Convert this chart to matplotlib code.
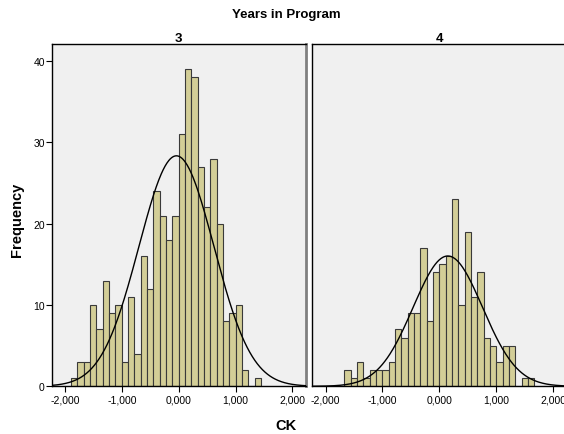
import numpy as np
import matplotlib
matplotlib.use("Agg")
import matplotlib.pyplot as plt

plt.rcParams["font.family"] = ["Liberation Sans", "DejaVu Sans"]

# ---- data ----
bin_width = 0.1114
left_first_bin = -17   # index of first bin edge (in bin widths)
right_first_bin = -15
counts_3 = [1, 3, 3, 10, 7, 13, 9, 10, 3, 11, 4, 16, 12, 24, 21, 18, 21, 31,
            39, 38, 27, 22, 28, 20, 8, 9, 10, 2, 0, 1]
counts_4 = [2, 1, 3, 1, 2, 2, 2, 3, 7, 6, 9, 9, 17, 8, 14, 15, 16, 23, 10, 19,
            11, 14, 6, 5, 3, 5, 5, 0, 1, 1]
mean_3, sd_3 = -0.04, 0.66
mean_4, sd_4 = 0.15, 0.61
panel_titles = ["3", "4"]
x_ticks = [-2, -1, 0, 1, 2]
y_ticks = [0, 10, 20, 30, 40]

fig = plt.figure(figsize=(5.64, 4.35), dpi=100)
fig.patch.set_facecolor("white")

W, H = 564, 435
def rect(x0, x1, y0, y1):
    return [x0 / W, 1 - y1 / H, (x1 - x0) / W, (y1 - y0) / H]

ax1 = fig.add_axes(rect(51.7, 305.7, 45, 387.3))
ax2 = fig.add_axes(rect(312.3, 566.3, 45, 387.3))

xlim = (-2.235, 2.235)
ylim = (0, 42.1)
bar_color = "#D3CE97"
edge_color = "#3A3A3A"

def fmt(v):
    return ("%.3f" % v).replace(".", ",")

for ax, counts, first, mu, sd, title, show_y in [
        (ax1, counts_3, left_first_bin, mean_3, sd_3, panel_titles[0], True),
        (ax2, counts_4, right_first_bin, mean_4, sd_4, panel_titles[1], False)]:
    ax.set_facecolor("#F0F0F0")
    n = len(counts)
    lefts = (np.arange(n) + first) * bin_width
    ax.bar(lefts, counts, width=bin_width, align="edge", color=bar_color,
           edgecolor=edge_color, linewidth=0.8, zorder=2)
    N = sum(counts)
    xs = np.linspace(xlim[0], xlim[1], 400)
    ys = N * bin_width / (sd * np.sqrt(2 * np.pi)) * np.exp(-0.5 * ((xs - mu) / sd) ** 2)
    ax.plot(xs, ys, color="black", linewidth=1.0, zorder=3)
    ax.set_xlim(*xlim)
    ax.set_ylim(*ylim)
    ax.set_xticks(x_ticks)
    ax.set_xticklabels([fmt(v) for v in x_ticks], fontsize=7.5)
    ax.set_yticks(y_ticks)
    if show_y:
        ax.set_yticklabels([str(v) for v in y_ticks], fontsize=7.5)
        ax.tick_params(axis="y", length=4, width=0.8, pad=1)
    else:
        ax.tick_params(axis="y", length=0, labelleft=False)
    ax.tick_params(axis="x", length=4, width=0.8, pad=2)
    for s in ["top", "left", "bottom"]:
        ax.spines[s].set_color("black")
        ax.spines[s].set_linewidth(1.0)
    ax.spines["right"].set_color("#808080")
    ax.spines["right"].set_linewidth(2.0)
    ax.set_title(title, fontsize=9.5, fontweight="bold", pad=2)

fig.text(286 / W, 1 - 15 / H, "Years in Program", ha="center", va="center",
         fontsize=9.5, fontweight="bold")
fig.text(17 / W, 1 - 220 / H, "Frequency", ha="center", va="center",
         rotation=90, fontsize=10.5, fontweight="bold")
fig.text(286 / W, 1 - 426 / H, "CK", ha="center", va="center",
         fontsize=10.5, fontweight="bold")

fig.savefig("out.png", dpi=100)
